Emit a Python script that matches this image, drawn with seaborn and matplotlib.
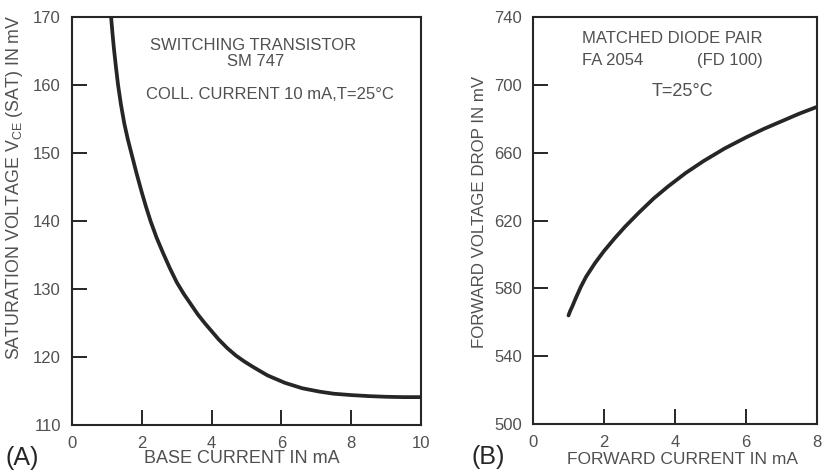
import matplotlib
matplotlib.use("Agg")
import matplotlib.pyplot as plt
import numpy as np
import pandas as pd
import seaborn as sns

# (A) switching transistor SM 747: base current (mA) vs V_CE(sat) (mV)
base_current = [1.12, 1.16, 1.2, 1.26, 1.32, 1.4, 1.5, 1.6, 1.72, 1.85, 2.0, 2.12, 2.25,
                2.42, 2.6, 2.8, 3.0, 3.2, 3.4, 3.6, 3.8, 4.0, 4.2, 4.45, 4.7, 4.95, 5.2,
                5.6, 6.1, 6.6, 7.1, 7.5, 8.0, 8.5, 9.0, 9.5, 10.0]
vce_sat = [170, 167.6, 165.4, 162.6, 160, 157.2, 154.3, 152.0, 149.6, 147.0, 144.2, 142.1, 140,
           137.6, 135.4, 133.1, 131, 129.3, 127.8, 126.3, 125, 123.8, 122.6, 121.3, 120.2, 119.3, 118.5,
           117.3, 116.2, 115.4, 114.9, 114.6, 114.4, 114.25, 114.15, 114.1, 114.1]

# (B) matched diode pair FA 2054: forward current (mA) vs forward drop (mV)
fwd_current = [1.0, 1.05, 1.1, 1.2, 1.35, 1.5, 1.75, 2.0, 2.3, 2.6, 3.0, 3.4, 3.8,
               4.3, 4.8, 5.4, 6.0, 6.5, 7.0, 7.5, 8.0]
fwd_drop = [564, 566.8, 569, 574, 581, 587, 595, 602, 609.5, 616.5, 625, 633, 640,
            648, 655, 662.5, 669, 674, 678.5, 683, 687]

a_xticks = [0, 2, 4, 6, 8, 10]
a_yticks = [110, 120, 130, 140, 150, 160, 170]
b_xticks = [0, 2, 4, 6, 8]
b_yticks = [500, 540, 580, 620, 660, 700, 740]

sns.set_theme(style="white")
plt.rcParams['font.family'] = ['Liberation Sans', 'DejaVu Sans']
plt.rcParams['mathtext.fontset'] = 'custom'
plt.rcParams['mathtext.rm'] = 'Liberation Sans'

TXT = '#505050'
INK = '#262626'
FS_TICK = 12
FS_LAB = 12.5
FS_NOTE = 12

fig = plt.figure(figsize=(8.28, 4.73), dpi=100)
ax_a = fig.add_axes([72 / 828, 1 - 425 / 473, 349 / 828, 408 / 473])
ax_b = fig.add_axes([533 / 828, 1 - 424 / 473, 284 / 828, 407 / 473])

df_a = pd.DataFrame({'I_B': base_current, 'V': vce_sat})
df_b = pd.DataFrame({'I_F': fwd_current, 'V': fwd_drop})

sns.lineplot(data=df_a, x='I_B', y='V', ax=ax_a, color=INK, linewidth=2.7, sort=False)
sns.lineplot(data=df_b, x='I_F', y='V', ax=ax_b, color=INK, linewidth=2.7, sort=False)


def style_axes(ax, xticks, yticks):
    ax.set_xlim(xticks[0], xticks[-1])
    ax.set_ylim(yticks[0], yticks[-1])
    ax.set_xticks(xticks)
    ax.set_yticks(yticks)
    ax.set_xticklabels([str(t) for t in xticks])
    ax.set_yticklabels([str(t) for t in yticks])
    ax.tick_params(axis='both', direction='in', length=11, width=1.4, colors=INK,
                   labelcolor=TXT, labelsize=FS_TICK, pad=8)
    ax.tick_params(axis='x', bottom=True, top=False)
    ax.tick_params(axis='y', left=True, right=False)
    for s in ax.spines.values():
        s.set_visible(True)
        s.set_color(INK)
        s.set_linewidth(1.5)


style_axes(ax_a, a_xticks, a_yticks)
style_axes(ax_b, b_xticks, b_yticks)

# axis labels
ax_a.set_xlabel('BASE CURRENT IN mA', fontsize=13, color=TXT)
ax_a.xaxis.set_label_coords(0.487, -0.062)
ax_a.set_ylabel(r'SATURATION VOLTAGE V$_{\rm CE}$ (SAT) IN mV', fontsize=12.8, color=TXT)
ax_a.yaxis.set_label_coords(-0.135, 0.583)

ax_b.set_xlabel('FORWARD CURRENT IN mA', fontsize=FS_LAB, color=TXT)
ax_b.xaxis.set_label_coords(0.525, -0.07)
ax_b.set_ylabel('FORWARD VOLTAGE DROP IN mV', fontsize=12.2, color=TXT)
ax_b.yaxis.set_label_coords(-0.162, 0.52)

# annotations
ax_a.text(0.519, 0.931, 'SWITCHING TRANSISTOR', transform=ax_a.transAxes,
          ha='center', va='center', fontsize=FS_NOTE, color=TXT)
ax_a.text(0.527, 0.89, 'SM 747', transform=ax_a.transAxes,
          ha='center', va='center', fontsize=FS_NOTE, color=TXT)
ax_a.text(0.567, 0.809, 'COLL. CURRENT 10 mA,T=25°C', transform=ax_a.transAxes,
          ha='center', va='center', fontsize=FS_NOTE, color=TXT)

ax_b.text(0.491, 0.947, 'MATCHED DIODE PAIR', transform=ax_b.transAxes,
          ha='center', va='center', fontsize=FS_NOTE, color=TXT)
ax_b.text(0.173, 0.894, 'FA 2054', transform=ax_b.transAxes,
          ha='left', va='center', fontsize=FS_NOTE, color=TXT)
ax_b.text(0.81, 0.894, '(FD 100)', transform=ax_b.transAxes,
          ha='right', va='center', fontsize=FS_NOTE, color=TXT)
ax_b.text(0.526, 0.818, 'T=25°C', transform=ax_b.transAxes,
          ha='center', va='center', fontsize=13, color=TXT)

# panel letters
fig.text(22 / 828, 1 - 458 / 473, '(A)', ha='center', va='center', fontsize=18, color=INK)
fig.text(488 / 828, 1 - 457 / 473, '(B)', ha='center', va='center', fontsize=18, color=INK)

fig.savefig('out.png', dpi=100, facecolor='white')
